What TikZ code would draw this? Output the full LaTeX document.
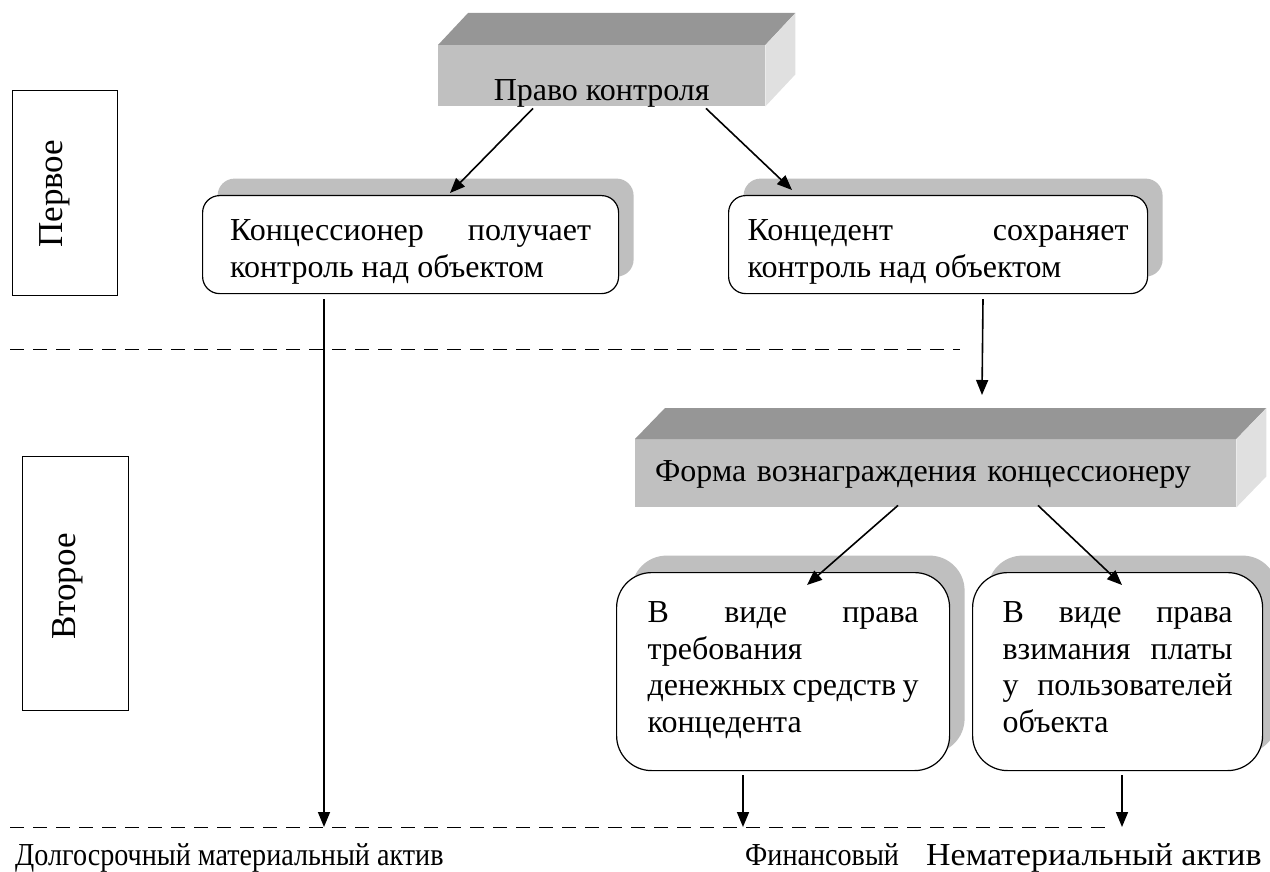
\documentclass[tikz,border=0pt]{standalone}
\usepackage{fontspec}
\setmainfont{Liberation Serif}
\usetikzlibrary{arrows.meta,shadows}
\definecolor{frontgray}{RGB}{192,192,192}
\definecolor{topgray}{RGB}{150,150,150}
\definecolor{sidegray}{RGB}{224,224,224}
\definecolor{shadowgray}{RGB}{191,191,191}
\tikzset{
  face/.style={fill=frontgray, inner sep=0pt, anchor=north west},
  card/.style={draw, line width=1.2pt, fill=white, anchor=north west, inner ysep=0pt,
    align=justify, rounded corners=#1,
    general shadow={fill=shadowgray, shadow xshift=15pt, shadow yshift=17pt}},
  card/.default=17pt,
  sidebox/.style={draw, line width=1.2pt, anchor=north west, inner sep=0pt},
  sidetext/.style={rotate=90, anchor=base west, inner sep=0pt, font=\fontsize{35}{40}\selectfont},
  arr/.style={line width=1.6pt, -{Triangle[length=15pt,width=12pt]}},
  cut/.style={line width=1pt, dash pattern=on 14pt off 9pt},
}
\begin{document}
\begin{tikzpicture}[x=1pt,y=-1pt,
  every node/.append style={font=\fontsize{32}{36.5}\selectfont}]
\hyphenpenalty=10000 \exhyphenpenalty=10000 \tolerance=10000
\useasboundingbox (0,0) rectangle (1270,872);
% levels
\node[sidebox, minimum width=105pt, minimum height=205pt] (perv) at (12,90) {};
\node[sidetext] (pervt) at (62,248) {Первое};
\node[sidebox, minimum width=106pt, minimum height=254pt] (vtor) at (22,456) {};
\node[sidetext] (vtort) at (75,640) {Второе};
% dashed borders
\draw[cut] (10,349) -- (960,349);
\draw[cut] (10,827) -- (1108,827);
% top block
\node[face, minimum width=327pt, text height=55pt, text depth=6pt] (pravo) at (438,45) {Право контроля};
\fill[topgray] (pravo.north west) -- ++(30,-32) -- ([shift={(30,-32)}]pravo.north east) -- (pravo.north east) -- cycle;
\fill[sidegray] (pravo.north east) -- ++(30,-32) -- ([shift={(30,-32)}]pravo.south east) -- (pravo.south east) -- cycle;
% first level boxes
\node[card, text width=361pt, inner xsep=27.5pt, text height=45pt, text depth=53pt] (konc) at (202,195)
  {Концессионер получает\linebreak контроль над объектом};
\node[card, text width=381pt, inner xsep=19pt, text height=45pt, text depth=53pt] (koncd) at (728,195)
  {Концедент сохраняет\linebreak контроль над объектом};
% second block
\node[face, minimum width=601pt, text width=561pt, inner xsep=20pt, align=left, text height=42pt, text depth=26pt] (forma) at (635,439)
  {Форма вознаграждения концессионеру};
\fill[topgray] (forma.north west) -- ++(30,-31) -- ([shift={(30,-31)}]forma.north east) -- (forma.north east) -- cycle;
\fill[sidegray] (forma.north east) -- ++(30,-31) -- ([shift={(30,-31)}]forma.south east) -- (forma.south east) -- cycle;
% second level boxes
\node[card=35pt, text width=271pt, inner xsep=31pt, text height=50pt, text depth=148pt] (treb) at (616,572)
  {В виде права\linebreak требования\linebreak денежных средств у\linebreak концедента};
\node[card=35pt, text width=230pt, inner xsep=30pt, text height=50pt, text depth=148pt] (vzim) at (972,572)
  {В виде права\linebreak взимания платы\linebreak у пользователей\linebreak объекта};
% results
\coordinate (aktiv) at (324,827);
\coordinate (fin) at (743,827);
\coordinate (nemat) at (1122,827);
\node[anchor=base west, inner sep=0pt] (aktivt) at (15,865) {\scalebox{0.88}[1]{Долгосрочный материальный актив}};
\node[anchor=base west, inner sep=0pt] (fint) at (745,865) {\scalebox{0.88}[1]{Финансовый}};
\node[anchor=base west, inner sep=0pt] (nematt) at (926,865) {\scalebox{1.06}[1]{Нематериальный актив}};
% connectors
\draw[arr] ([xshift=95pt,yshift=-2pt]pravo.south west) -- ([xshift=248pt,yshift=2pt]konc.north west);
\draw[arr] ([xshift=268pt,yshift=-2pt]pravo.south west) -- ([xshift=64pt,yshift=5pt]koncd.north west);
\draw[arr] ([xshift=122pt,yshift=-5pt]konc.south west) -- (aktiv);
\draw[arr] ([xshift=255pt,yshift=-5pt]koncd.south west) -- ([xshift=347pt,yshift=44pt]forma.north west);
\draw[arr] ([xshift=263pt,yshift=2pt]forma.south west) -- ([xshift=191pt,yshift=-13pt]treb.north west);
\draw[arr] ([xshift=403pt,yshift=2pt]forma.south west) -- ([xshift=150pt,yshift=-13pt]vzim.north west);
\draw[arr] ([xshift=127pt,yshift=-4pt]treb.south west) -- (fin);
\draw[arr] ([xshift=150pt,yshift=-4pt]vzim.south west) -- (nemat);
\end{tikzpicture}
\end{document}
